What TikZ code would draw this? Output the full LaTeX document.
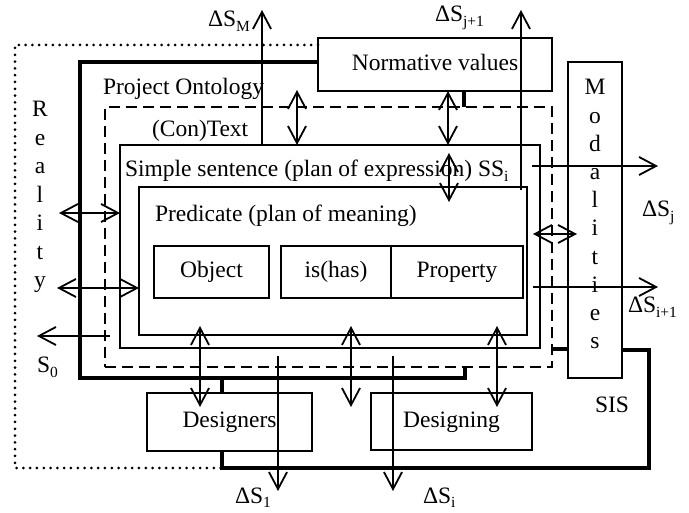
\documentclass[tikz,border=0pt]{standalone}
\usepackage{fontspec}
\setmainfont{Liberation Serif}
\usetikzlibrary{arrows.meta}
\newcommand\subx[1]{\raisebox{-0.2em}{\fontsize{15.5}{16}\selectfont #1}}
\begin{document}
\begin{tikzpicture}[x=1pt,y=-1pt,
  lw/.style={line width=1.8pt},
  box/.style={draw, lw, inner sep=0pt, outer sep=0pt, font=\fontsize{23.5}{28}\selectfont, execute at begin node=\strut},
  txt/.style={inner sep=0pt, outer sep=0pt, font=\fontsize{23.5}{28}\selectfont},
  thickline/.style={line width=4pt},
  dotline/.style={line width=3pt, line cap=round, dash pattern=on 0pt off 6.8pt},
  dashline/.style={lw, dash pattern=on 11pt off 6pt},
  conn/.style={lw, -{Straight Barb[length=17pt,width=18pt]}},
  dconn/.style={lw, {Straight Barb[length=17pt,width=18pt]}-{Straight Barb[length=17pt,width=18pt]}},
]
\useasboundingbox (0,0) rectangle (689,513);

% boxes
\node[box, minimum width=234pt, minimum height=53pt] (nv) at (435,64.5) {Normative values};
\node[box, minimum width=54pt, minimum height=316pt] (mod) at (595,220) {};
\node[box, dashline, minimum width=447pt, minimum height=260pt] (ctx) at (328.5,237) {};
\node[box, minimum width=420pt, minimum height=203pt] (ss) at (330,246.5) {};
\node[box, minimum width=388pt, minimum height=148pt] (pr) at (333,261) {};
\node[box, minimum width=115pt, minimum height=52pt] (obj) at (211.5,272) {Object};
\node[box, minimum width=110pt, minimum height=52pt] (ish) at (336,272) {is(has)};
\node[box, minimum width=132pt, minimum height=52pt] (prop) at (457,272) {Property};
\node[box, minimum width=165pt, minimum height=58pt] (des) at (229.5,422) {Designers};
\node[box, minimum width=161pt, minimum height=57pt] (dsg) at (451.5,421.5) {Designing};

% outlines
\draw[dotline] (nv.west |- 0,45) -- (15,45) -- (15,468) -- (222,468);
\draw[thickline] (nv.west |- 0,62) -- (80,62) -- (80,378) -- (465,378) -- (465,367);
\draw[thickline] (222,378) -- (des.north -| 222,0);
\draw[thickline] (des.south -| 222,0) -- (222,468) -- (649,468) -- (649,350) -- (mod.east |- 0,350);
\draw[thickline] (552,349) -- (mod.west |- 0,349);
\draw[thickline] (nv.south -| 464,0) -- (464,107);

% labels
\node[txt, anchor=base west] (lpo) at (103,95) {Project Ontology};
\node[txt, anchor=base west] (lct) at (152,137) {(Con)Text};
\node[txt, anchor=base west] (lss) at (125,177) {Simple sentence (plan of expression) SS\subx{i}};
\node[txt, anchor=base west] (lpr) at (155,222) {Predicate (plan of meaning)};
\node[txt, anchor=base] (lsis) at (612,413) {SIS};
\node[txt, anchor=base west] (ldm) at (208,27) {ΔS\subx{M}};
\node[txt, anchor=base west] (ldj1) at (435,22) {ΔS\subx{j+1}};
\node[txt, anchor=base west] (ldj) at (642,217) {ΔS\subx{j}};
\node[txt, anchor=base west] (ldi1) at (628,313) {ΔS\subx{i+1}};
\node[txt, anchor=base west] (ls0) at (37,373) {S\subx{0}};
\node[txt, anchor=base west] (ld1) at (235,503) {ΔS\subx{1}};
\node[txt, anchor=base west] (ldi) at (423,503) {ΔS\subx{i}};

\foreach \l [count=\i from 0] in {R,e,a,l,i,t,y}
  \node[txt, anchor=base] (re\i) at (40,116.7+28.55*\i) {\l};
\foreach \l [count=\i from 0] in {M,o,d,a,l,i,t,i,e,s}
  \node[txt, anchor=base] (mo\i) at (595,95+28.2*\i) {\l};

% free ends
\coordinate (eM) at (262,10);
\coordinate (ej1b) at (521,190);
\coordinate (ej1) at (521,10);
\coordinate (epo) at (297,90);
\coordinate (ein1) at (449,153);
\coordinate (ein2) at (449,202);
\coordinate (ejs) at (532,166);
\coordinate (eje) at (658,166);
\coordinate (ems) at (533,234);
\coordinate (eme) at (577,234);
\coordinate (eis) at (533,287);
\coordinate (eie) at (658,287);
\coordinate (el1) at (59,213);
\coordinate (el2) at (57,288);
\coordinate (s0s) at (110,336);
\coordinate (s0e) at (37,336);
\coordinate (da) at (200,326);
\coordinate (db) at (200,407);
\coordinate (ma) at (351,326);
\coordinate (mb) at (351,407);
\coordinate (ga) at (497,326);
\coordinate (gb) at (497,407);
\coordinate (d1s) at (278,356);
\coordinate (d1e) at (278,491);
\coordinate (dis) at (393,356);
\coordinate (die) at (393,491);

% connectors
\draw[conn] (ss.north -| eM) -- (eM);
\draw[conn] (ej1b) -- (ej1);
\draw[dconn] (epo) -- (ss.north -| epo);
\draw[dconn] (nv.south -| 448,0) -- (ss.north -| 448,0);
\draw[dconn] (ein1) -- (ein2);
\draw[conn] (ejs) -- (eje);
\draw[dconn] (ems) -- (eme);
\draw[conn] (eis) -- (eie);
\draw[dconn] (el1) -- (ss.west |- el1);
\draw[dconn] (el2) -- (pr.west |- el2);
\draw[conn] (s0s) -- (s0e);
\draw[dconn] (da) -- (db);
\draw[dconn] (ma) -- (mb);
\draw[dconn] (ga) -- (gb);
\draw[conn] (d1s) -- (d1e);
\draw[conn] (dis) -- (die);
\end{tikzpicture}
\end{document}
